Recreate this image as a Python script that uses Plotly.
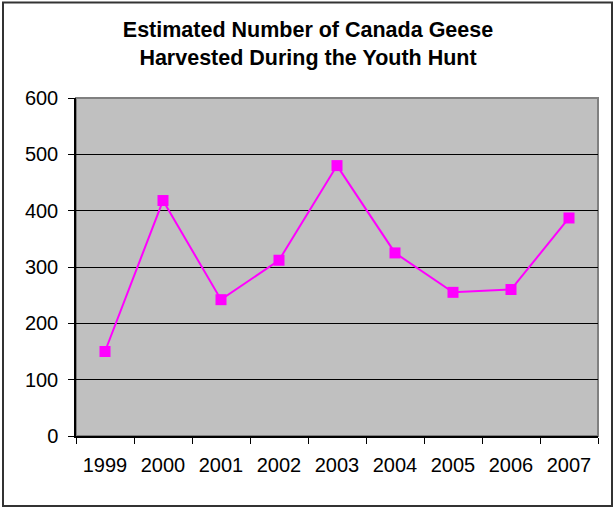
import plotly.graph_objects as go

years = ["1999", "2000", "2001", "2002", "2003", "2004", "2005", "2006", "2007"]
geese = [150, 418, 242, 312, 480, 325, 255, 260, 387]
y_ticks = [0, 100, 200, 300, 400, 500, 600]

W, H = 616, 508
L, R, T, B = 76, 598, 98, 436

fig = go.Figure()
fig.add_trace(go.Scatter(
    x=years, y=geese, mode="lines+markers",
    line=dict(color="#FF00FF", width=2),
    marker=dict(symbol="square", size=11, color="#FF00FF"),
    cliponaxis=False,
))

def px_to_paper_x(px):
    return (px - L) / (R - L)

def px_to_paper_y(py):
    return (B - py) / (B - T)

fig.update_layout(
    width=W, height=H,
    margin=dict(l=L, r=W - R, t=T, b=H - B),
    paper_bgcolor="white",
    plot_bgcolor="#C0C0C0",
    showlegend=False,
    font=dict(family="Liberation Sans, Arial, sans-serif", color="black", size=20),
    title=dict(
        text="<b>Estimated Number of Canada Geese<br>Harvested During the Youth Hunt</b>",
        x=0.5, xref="container", xanchor="center",
        y=1 - 37 / H, yref="container", yanchor="middle",
        font=dict(size=21.5, family="Liberation Sans, Arial, sans-serif"),
    ),
    xaxis=dict(
        type="category", tickson="boundaries", ticks="outside", ticklen=6,
        tickcolor="black", showline=True, linecolor="black", linewidth=1.5,
        showgrid=False, tickfont=dict(size=20), range=[-0.5, 8.5],
        ticklabelstandoff=10,
    ),
    yaxis=dict(
        range=[0, 600], tickvals=y_ticks, ticks="outside", ticklen=6,
        tickcolor="black", showline=True, linecolor="black", linewidth=1.5,
        showgrid=True, gridcolor="black", gridwidth=1, zeroline=False,
        tickfont=dict(size=20), ticklabelstandoff=6,
    ),
    shapes=[
        dict(type="rect", xref="paper", yref="paper", x0=0, x1=1, y0=0, y1=1,
             line=dict(color="#808080", width=2), layer="below"),
        dict(type="rect", xref="paper", yref="paper",
             x0=px_to_paper_x(3), x1=px_to_paper_x(612),
             y0=px_to_paper_y(506), y1=px_to_paper_y(2.5),
             line=dict(color="#333333", width=2)),
    ],
)

fig.write_html("out.html", config={"displayModeBar": False},
               post_script="document.body.style.margin='0';")
